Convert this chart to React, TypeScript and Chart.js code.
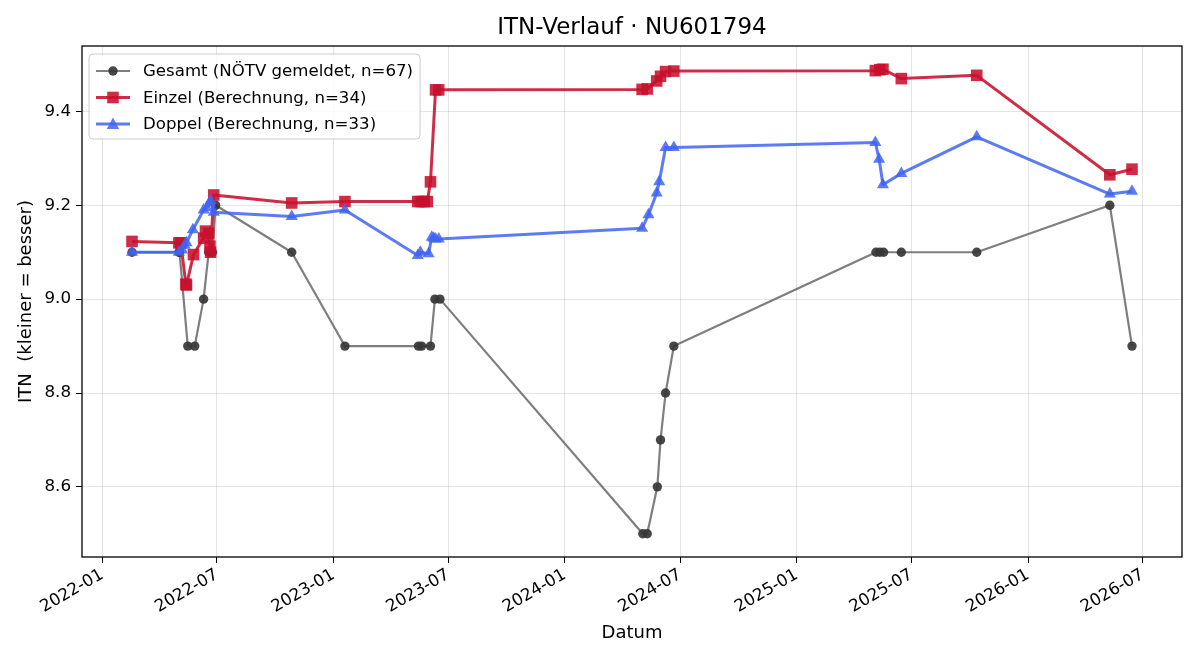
import React, { useEffect, useRef } from 'react';
import { Chart, registerables } from 'chart.js';

Chart.register(...registerables);

const FONT = '"DejaVu Sans", sans-serif';

const titleText = 'ITN-Verlauf · NU601794';
const xAxisLabel = 'Datum';
const yAxisLabel = 'ITN  (kleiner = besser)';
const seriesLabels = [
  'Gesamt (NÖTV gemeldet, n=67)',
  'Einzel (Berechnung, n=34)',
  'Doppel (Berechnung, n=33)',
];

const xTickLabels = [
  '2022-01', '2022-07', '2023-01', '2023-07', '2024-01',
  '2024-07', '2025-01', '2025-07', '2026-01', '2026-07',
];
const yTickValues = [8.6, 8.8, 9.0, 9.2, 9.4];

// Gesamt: reported ITN
const gesamtDates = [
  '2022-02-17', '2022-05-02', '2022-05-03', '2022-05-16', '2022-05-27',
  '2022-06-10', '2022-06-18', '2022-06-24', '2022-06-29', '2022-10-27',
  '2023-01-19', '2023-05-15', '2023-05-20', '2023-06-03', '2023-06-10',
  '2023-06-18', '2024-05-03', '2024-05-10', '2024-05-26', '2024-05-31',
  '2024-06-08', '2024-06-21', '2025-05-06', '2025-05-12', '2025-05-18',
  '2025-06-15', '2025-10-12', '2026-05-10', '2026-06-14',
];
const gesamtValues = [
  9.1, 9.1, 9.1, 8.9, 8.9,
  9.0, 9.1, 9.1, 9.2, 9.1,
  8.9, 8.9, 8.9, 8.9, 9.0,
  9.0, 8.5, 8.5, 8.6, 8.7,
  8.8, 8.9, 9.1, 9.1, 9.1,
  9.1, 9.1, 9.2, 8.9,
];

// Einzel: computed singles ITN
const einzelDates = [
  '2022-02-17', '2022-05-02', '2022-05-05', '2022-05-13', '2022-05-14',
  '2022-05-25', '2022-06-10', '2022-06-13', '2022-06-18', '2022-06-20',
  '2022-06-21', '2022-06-26', '2022-10-27', '2023-01-19', '2023-05-14',
  '2023-05-19', '2023-05-24', '2023-05-29', '2023-06-03', '2023-06-11',
  '2023-06-16', '2024-05-02', '2024-05-10', '2024-05-25', '2024-05-31',
  '2024-06-08', '2024-06-21', '2025-05-05', '2025-05-12', '2025-05-17',
  '2025-06-15', '2025-10-12', '2026-05-10', '2026-06-14',
];
const einzelValues = [
  9.123, 9.12, 9.12, 9.032, 9.03,
  9.095, 9.13, 9.145, 9.14, 9.113,
  9.1, 9.222, 9.205, 9.208, 9.208,
  9.208, 9.208, 9.208, 9.25, 9.446,
  9.446, 9.447, 9.448, 9.465, 9.475,
  9.485, 9.486, 9.487, 9.489, 9.49,
  9.47, 9.477, 9.265, 9.277,
];

// Doppel: computed doubles ITN
const doppelDates = [
  '2022-02-17', '2022-05-02', '2022-05-07', '2022-05-11', '2022-05-14',
  '2022-05-24', '2022-06-10', '2022-06-15', '2022-06-20', '2022-06-21',
  '2022-06-26', '2022-10-27', '2023-01-19', '2023-05-14', '2023-05-18',
  '2023-05-31', '2023-06-05', '2023-06-08', '2023-06-11', '2023-06-16',
  '2024-05-02', '2024-05-12', '2024-05-25', '2024-05-29', '2024-06-08',
  '2024-06-21', '2025-05-05', '2025-05-11', '2025-05-17', '2025-06-15',
  '2025-10-12', '2026-05-10', '2026-06-14',
];
const doppelValues = [
  9.1, 9.1, 9.105, 9.115, 9.12,
  9.148, 9.19, 9.195, 9.205, 9.21,
  9.185, 9.176, 9.19, 9.093, 9.1,
  9.097, 9.132, 9.13, 9.128, 9.128,
  9.151, 9.18, 9.226, 9.25, 9.323,
  9.323, 9.334, 9.298, 9.244, 9.268,
  9.346, 9.224, 9.23,
];

const GRAY_LINE = 'rgba(90,90,90,0.78)';
const GRAY_MARK = 'rgba(55,55,55,0.92)';
const RED = 'rgba(200,16,46,0.88)';
const BLUE = 'rgba(65,100,240,0.85)';

// days since epoch for 'YYYY-MM' or 'YYYY-MM-DD'
const dayOf = (s: string) =>
  Date.UTC(+s.slice(0, 4), +s.slice(5, 7) - 1, s.length > 7 ? +s.slice(8, 10) : 1) / 86400000;

const toPoints = (dates: string[], values: number[]) =>
  dates.map((d, i) => ({ x: dayOf(d), y: values[i] }));

const xTickValues = xTickLabels.map(dayOf);

// axis limits with a 5% margin around the data
const allX = [...gesamtDates, ...einzelDates, ...doppelDates].map(dayOf);
const allY = [...gesamtValues, ...einzelValues, ...doppelValues];
const xLo = Math.min(...allX), xHi = Math.max(...allX);
const yLo = Math.min(...allY), yHi = Math.max(...allY);
const X_MIN = xLo - (xHi - xLo) * 0.05;
const X_MAX = xHi + (xHi - xLo) * 0.05;
const Y_MIN = yLo - (yHi - yLo) * 0.05;
const Y_MAX = yHi + (yHi - yLo) * 0.05;

function drawMarker(ctx: CanvasRenderingContext2D, kind: string, x: number, y: number, color: string) {
  ctx.fillStyle = color;
  ctx.beginPath();
  if (kind === 'circle') {
    ctx.arc(x, y, 4.7, 0, Math.PI * 2);
  } else if (kind === 'rect') {
    ctx.rect(x - 5.8, y - 5.8, 11.6, 11.6);
  } else {
    ctx.moveTo(x, y - 6.5);
    ctx.lineTo(x + 6.2, y + 5);
    ctx.lineTo(x - 6.2, y + 5);
    ctx.closePath();
  }
  ctx.fill();
}

const decorations = {
  id: 'decorations',
  afterDatasetsDraw(chart: any) {
    const { ctx, chartArea: ca } = chart;
    ctx.save();
    // frame
    ctx.strokeStyle = '#000';
    ctx.lineWidth = 1.3;
    ctx.strokeRect(ca.left, ca.top, ca.right - ca.left, ca.bottom - ca.top);

    // title
    ctx.fillStyle = '#000';
    ctx.textAlign = 'center';
    ctx.textBaseline = 'middle';
    ctx.font = `23px ${FONT}`;
    ctx.fillText(titleText, (ca.left + ca.right) / 2, 28);

    // axis titles
    ctx.font = `18px ${FONT}`;
    ctx.fillText(xAxisLabel, (ca.left + ca.right) / 2, 633);
    ctx.save();
    ctx.translate(26, (ca.top + ca.bottom) / 2);
    ctx.rotate(-Math.PI / 2);
    ctx.fillText(yAxisLabel, 0, 0);
    ctx.restore();

    // legend
    ctx.font = `16.6px ${FONT}`;
    const tw = Math.max(...seriesLabels.map((t) => ctx.measureText(t).width));
    const bx = ca.left + 7, by = ca.top + 8;
    const bw = 54 + tw + 7, bh = 85;
    ctx.beginPath();
    ctx.roundRect(bx, by, bw, bh, 4);
    ctx.fillStyle = 'rgba(255,255,255,0.8)';
    ctx.fill();
    ctx.strokeStyle = 'rgba(0,0,0,0.2)';
    ctx.lineWidth = 1;
    ctx.stroke();
    const styles = [
      { line: GRAY_LINE, mark: GRAY_MARK, kind: 'circle', w: 2.2 },
      { line: RED, mark: RED, kind: 'rect', w: 3 },
      { line: BLUE, mark: BLUE, kind: 'triangle', w: 3 },
    ];
    styles.forEach((s, i) => {
      const cy = by + 17 + i * 26.5;
      ctx.strokeStyle = s.line;
      ctx.lineWidth = s.w;
      ctx.beginPath();
      ctx.moveTo(bx + 7, cy);
      ctx.lineTo(bx + 41, cy);
      ctx.stroke();
      drawMarker(ctx, s.kind, bx + 24, cy, s.mark);
      ctx.fillStyle = '#000';
      ctx.textAlign = 'left';
      ctx.fillText(seriesLabels[i], bx + 54, cy + 1);
    });
    ctx.restore();
  },
};

export default function App() {
  const ref = useRef<HTMLCanvasElement>(null);

  useEffect(() => {
    if (!ref.current) return;
    const chart = new Chart(ref.current, {
      type: 'line',
      data: {
        datasets: [
          {
            label: seriesLabels[0],
            data: toPoints(gesamtDates, gesamtValues),
            borderColor: GRAY_LINE,
            borderWidth: 2.2,
            pointStyle: 'circle',
            pointRadius: 4.7,
            pointBackgroundColor: GRAY_MARK,
            pointBorderColor: GRAY_MARK,
            pointBorderWidth: 0,
            borderJoinStyle: 'round',
            order: 3,
          },
          {
            label: seriesLabels[1],
            data: toPoints(einzelDates, einzelValues),
            borderColor: RED,
            borderWidth: 3,
            pointStyle: 'rect',
            pointRadius: 8.2,
            pointBackgroundColor: RED,
            pointBorderColor: RED,
            pointBorderWidth: 0,
            borderJoinStyle: 'round',
            order: 2,
          },
          {
            label: seriesLabels[2],
            data: toPoints(doppelDates, doppelValues),
            borderColor: BLUE,
            borderWidth: 3,
            pointStyle: 'triangle',
            pointRadius: 7,
            pointBackgroundColor: BLUE,
            pointBorderColor: BLUE,
            pointBorderWidth: 0,
            borderJoinStyle: 'round',
            order: 1,
          },
        ],
      },
      options: {
        responsive: false,
        animation: false,
        devicePixelRatio: 1,
        layout: { padding: { top: 46, right: 18, left: 0, bottom: 0 } },
        plugins: {
          legend: { display: false },
          title: { display: false },
          tooltip: { enabled: false },
        },
        scales: {
          x: {
            type: 'linear',
            min: X_MIN,
            max: X_MAX,
            afterFit: (s: any) => { s.height = 103; },
            afterBuildTicks: (s: any) => { s.ticks = xTickValues.map((v) => ({ value: v })); },
            ticks: {
              autoSkip: false,
              minRotation: 30,
              maxRotation: 30,
              padding: 2,
              color: '#000',
              font: { family: FONT, size: 16.7 },
              callback: (v: any) => {
                const i = xTickValues.indexOf(Number(v));
                return i >= 0 ? xTickLabels[i] : '';
              },
            },
            grid: { color: 'rgba(0,0,0,0.1)', tickColor: '#000', tickLength: 6, lineWidth: 1 },
            border: { display: false },
          },
          y: {
            type: 'linear',
            min: Y_MIN,
            max: Y_MAX,
            afterFit: (s: any) => { s.width = 82; },
            afterBuildTicks: (s: any) => { s.ticks = yTickValues.map((v) => ({ value: v })); },
            ticks: {
              padding: 5,
              color: '#000',
              font: { family: FONT, size: 16.7 },
              callback: (v: any) => Number(v).toFixed(1),
            },
            grid: { color: 'rgba(0,0,0,0.1)', tickColor: '#000', tickLength: 6, lineWidth: 1 },
            border: { display: false },
          },
        },
      },
      plugins: [decorations],
    } as any);
    return () => chart.destroy();
  }, []);

  return (
    <div style={{ position: 'fixed', left: 0, top: 0, width: 1200, height: 660, background: '#fff' }}>
      <canvas ref={ref} width={1200} height={660} style={{ width: 1200, height: 660, display: 'block' }} />
    </div>
  );
}
